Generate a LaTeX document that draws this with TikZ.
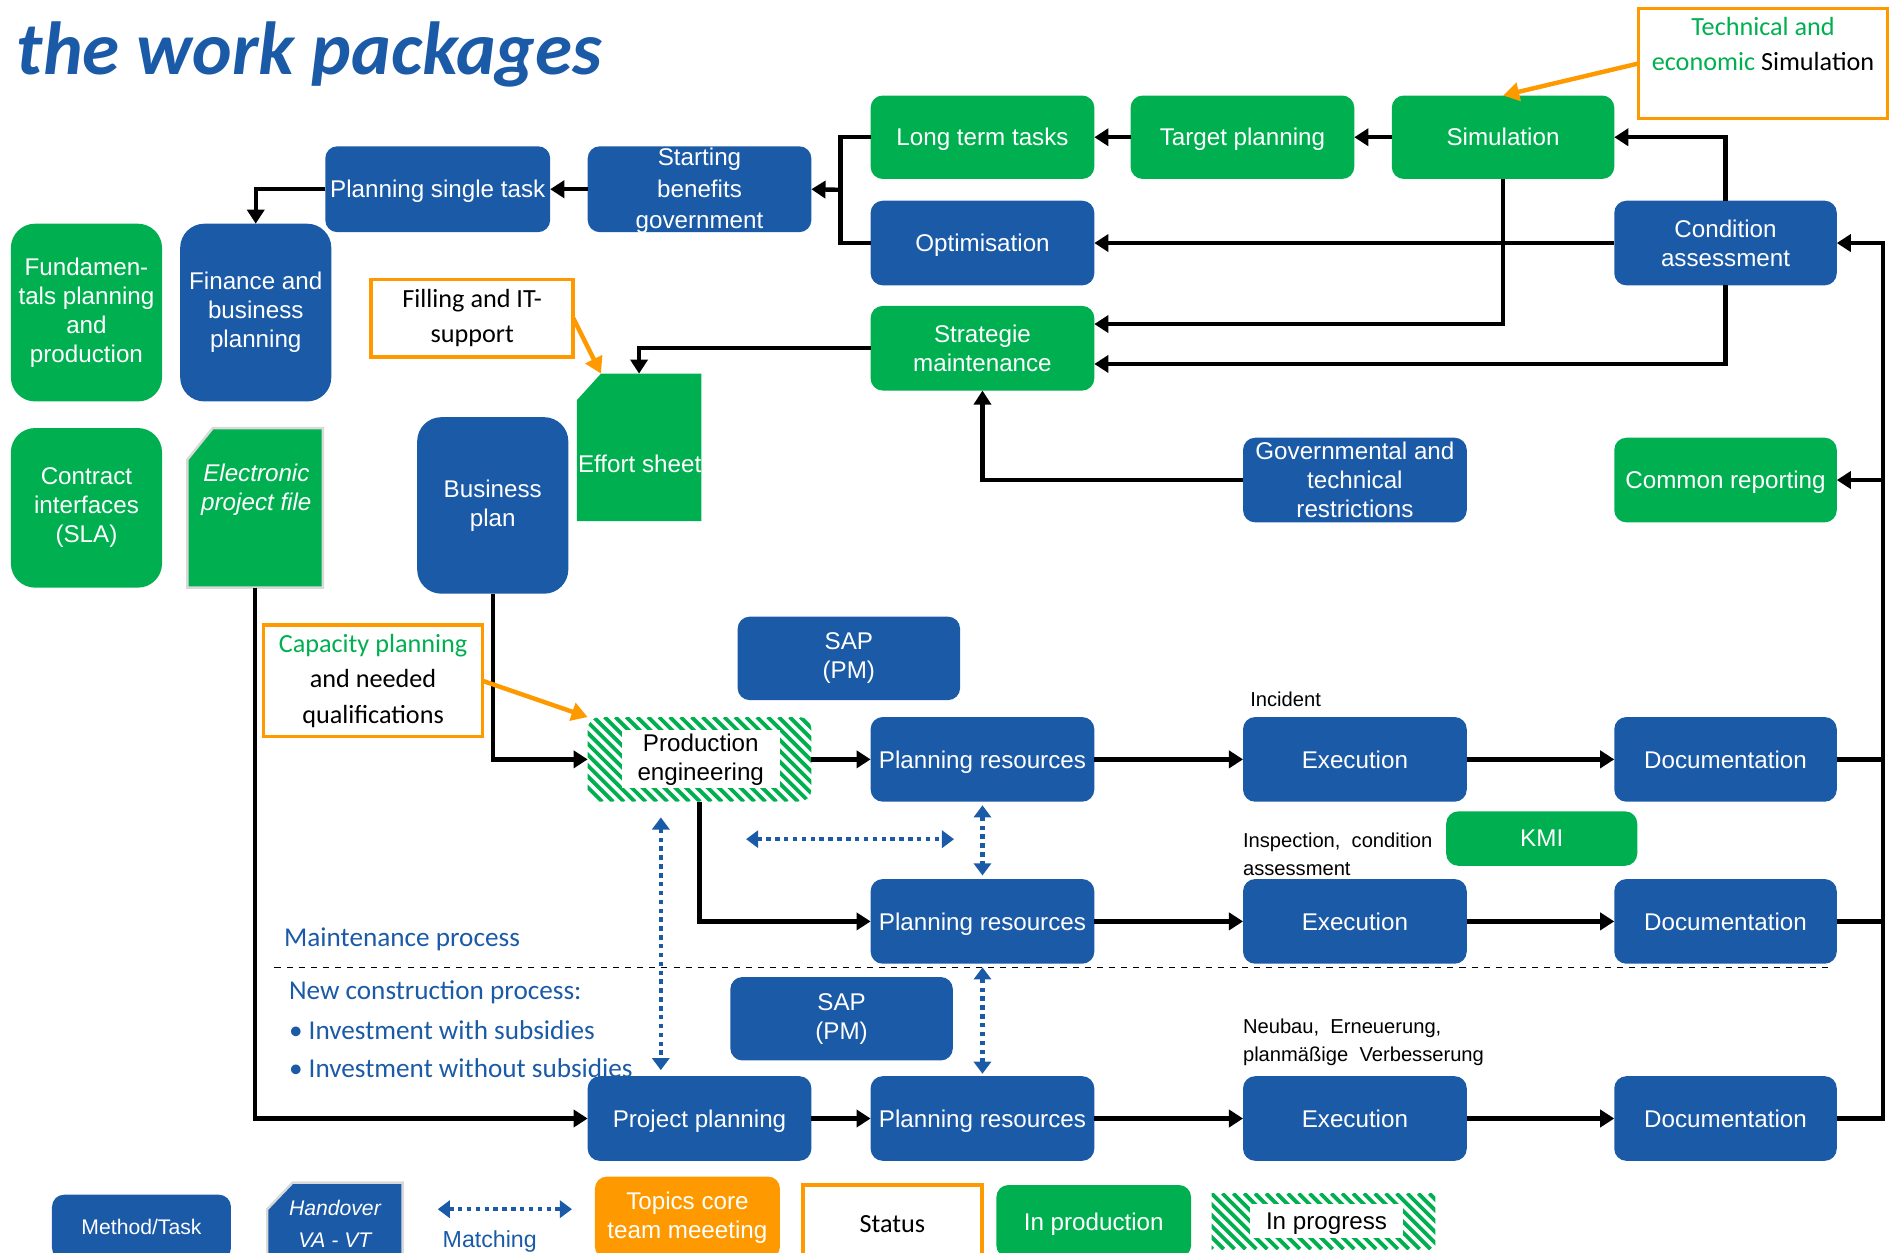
\documentclass[tikz,border=0pt]{standalone}
\usepackage{fontspec}
\setmainfont{Liberation Sans}
\newfontfamily\calibri{Carlito}
\usetikzlibrary{arrows.meta,calc}

\definecolor{cblue}{RGB}{27,90,167}
\definecolor{cgreen}{RGB}{0,176,80}
\definecolor{corange}{RGB}{255,153,0}

\tikzset{
  every node/.style={inner sep=0pt, outer sep=0pt},
  base/.style={text=white, align=center, font=\fontsize{12}{14.4}\selectfont, rounded corners=6pt},
  bluebox/.style={base, fill=cblue},
  greenbox/.style={base, fill=cgreen},
  one/.style={text depth=0pt},
  tallr/.style={rounded corners=12pt},
  callout/.style={draw=corange, line width=1.8pt, fill=white, align=center, font=\calibri\fontsize{13}{17.6}\selectfont, text=black},
  arr/.style={line width=2.2pt, -{Triangle[length=7pt,width=8.5pt]}},
  ln/.style={line width=2.2pt},
  oarr/.style={corange, line width=2.2pt, -{Triangle[length=8pt,width=9pt]}},
  match/.style={cblue, line width=2.2pt, dash pattern=on 2.2pt off 2.2pt, {Triangle[length=6pt,width=8.5pt]}-{Triangle[length=6pt,width=8.5pt]}},
  stripe/.style={cgreen, line width=1.9pt},
  small/.style={font=\fontsize{10}{14}\selectfont, align=left, text=black},
  procfont/.style={font=\calibri\fontsize{13.5}{16}\selectfont, text=cblue},
}

\newcommand\bx[7]{%
  \pgfmathsetmacro\bxw{(#4-#2)*0.6}%
  \pgfmathsetmacro\bxh{(#5-#3)*0.6}%
  \node[#6, minimum width=\bxw pt, minimum height=\bxh pt] (#1) at ({(#2+#4)/2},{(#3+#5)/2}) {#7};}

\begin{document}
\begin{tikzpicture}[x=0.6pt,y=-0.6pt]
\useasboundingbox (0,0) rectangle (1568,1036);
\clip (0,0) rectangle (1568,1036);

% title
\node[anchor=base west, font=\calibri\bfseries\itshape\fontsize{37.3}{40}\selectfont, text=cblue] (title) at (14,62) {the work packages};

% top area
\bx{lt}{720}{79}{905}{148}{greenbox,one}{Long term tasks}
\bx{tgt}{935}{79}{1120}{148}{greenbox,one}{Target planning}
\bx{sim}{1151}{79}{1335}{148}{greenbox,one}{Simulation}
\bx{c1}{1355}{7}{1561}{98}{callout}{}
\node[font=\calibri\fontsize{13}{17.4}\selectfont, align=center] (c1t) at (1458,36.5) {\textcolor{cgreen}{Technical and}\\\textcolor{cgreen}{economic} Simulation};
\bx{cond}{1335}{166}{1519}{236}{bluebox}{Condition\\assessment}
\bx{opt}{720}{166}{905}{236}{bluebox,one}{Optimisation}
\bx{strat}{720}{253}{905}{323}{greenbox}{Strategie\\maintenance}
\bx{start}{486}{121}{671}{192}{bluebox}{}
\node[text=white, align=center, font=\fontsize{12}{15.6}\selectfont] (startt) at (578.5,158) {Starting\\benefits\\government};
\bx{pst}{269}{121}{455}{192}{bluebox,one}{Planning single task}

% left column
\bx{fund}{9}{185}{134}{332}{greenbox,tallr}{Fundamen-\\tals planning\\and\\production}
\bx{fin}{149}{185}{274}{332}{bluebox,tallr}{Finance and\\business\\planning}
\bx{sla}{9}{354}{134}{486}{greenbox,tallr}{Contract\\interfaces\\(SLA)}
\bx{epf}{155}{354}{267}{486}{}{}
\path[fill=cgreen, draw=black!15, line width=1.2pt] ($(epf.north west)+(0,26)$) -- ($(epf.north west)+(21,0)$) -- (epf.north east) -- (epf.south east) -- (epf.south west) -- cycle;
\node[text=white, align=center, font=\itshape\fontsize{12}{14.4}\selectfont] (epft) at (212,405) {Electronic\\project file};

\bx{c2}{307}{231}{474}{295}{callout}{Filling and IT-\\support}
\bx{eff}{477}{309}{580}{431}{}{}
\path[fill=cgreen] ($(eff.north west)+(0,22)$) -- ($(eff.north west)+(20,0)$) -- (eff.north east) -- (eff.south east) -- (eff.south west) -- cycle;
\node[text=white, font=\fontsize{12}{14.4}\selectfont] (efft) at (529,384) {Effort sheet};
\bx{bp}{345}{345}{470}{491}{bluebox,tallr}{Business\\plan}
\bx{gov}{1028}{362}{1213}{432}{bluebox}{Governmental and\\technical\\restrictions}
\bx{rep}{1335}{362}{1519}{432}{greenbox,one}{Common reporting}

% process area
\bx{c3}{218}{517}{399}{609}{callout}{\textcolor{cgreen}{Capacity planning}\\and needed\\qualifications}
\bx{sap1}{610}{510}{794}{579}{bluebox}{SAP\\(PM)}

\begin{scope}
  \clip[rounded corners=6pt] (486,593) rectangle (671,663);
  \foreach \k in {410,419,...,680} \draw[stripe] (\k,593) -- +(70,70);
\end{scope}
\bx{pe}{486}{593}{671}{663}{}{}
\bx{pet}{514}{604}{645}{652}{fill=white, align=center, text=black, font=\fontsize{12}{14.4}\selectfont}{Production\\engineering}

\bx{pr1}{720}{593}{905}{663}{bluebox,one}{Planning resources}
\bx{ex1}{1028}{593}{1213}{663}{bluebox,one}{Execution}
\bx{doc1}{1335}{593}{1519}{663}{bluebox,one}{Documentation}
\node[small, anchor=west] (inc) at (1034,578) {Incident};
\node[small, anchor=west] (insp) at (1028,706.5) {Inspection,\ \ condition\\assessment};
\bx{kmi}{1196}{671}{1354}{716}{greenbox,one}{KMI}

\bx{pr2}{720}{727}{905}{797}{bluebox,one}{Planning resources}
\bx{ex2}{1028}{727}{1213}{797}{bluebox,one}{Execution}
\bx{doc2}{1335}{727}{1519}{797}{bluebox,one}{Documentation}

\node[procfont, anchor=west] (mp) at (235,777) {Maintenance process};
\draw[dashed, line width=0.8pt] (227,800) -- (1512,800);
\node[procfont, anchor=west] (nc1) at (239,821) {New construction process:};
\node[procfont, anchor=west] (nc2) at (239,852) {\textbullet\ Investment with subsidies};
\node[procfont, anchor=west] (nc3) at (239,883) {\textbullet\ Investment without subsidies};

\bx{sap2}{604}{808}{788}{877}{bluebox}{SAP\\(PM)}
\node[small, anchor=west] (neu) at (1028,862) {Neubau,\ \ Erneuerung,\\planmäßige\ \ Verbesserung};

\bx{pp}{486}{890}{671}{960}{bluebox,one}{Project planning}
\bx{pr3}{720}{890}{905}{960}{bluebox,one}{Planning resources}
\bx{ex3}{1028}{890}{1213}{960}{bluebox,one}{Execution}
\bx{doc3}{1335}{890}{1519}{960}{bluebox,one}{Documentation}

% connectors top
\draw[arr] (sim.west) -- (tgt.east);
\draw[arr] (tgt.west) -- (lt.east);
\draw[arr] (cond.north) |- (sim.east);
\draw[arr] (cond.west) -- (opt.east);
\draw[arr] (sim.south) |- ($(strat.east)+(0,-20)$);
\draw[arr] (cond.south) |- ($(strat.east)+(0,13)$);
\coordinate (j1) at (695,157);
\draw[ln] (lt.west) -| (j1) |- (opt.west);
\draw[arr] (j1) -- (start.east);
\draw[arr] (start.west) -- (pst.east);
\draw[arr] (pst.west) -| (fin.north);
\draw[arr] (strat.west) -| (eff.north);
\draw[arr] (gov.west) -| (strat.south);

% connectors process
\draw[arr] (bp.south) |- (pe.west);
\draw[arr] (epf.south) |- (pp.west);
\draw[arr] (pe.east) -- (pr1.west);
\draw[arr] (pr1.east) -- (ex1.west);
\draw[arr] (ex1.east) -- (doc1.west);
\draw[arr] (pe.south) |- (pr2.west);
\draw[arr] (pr2.east) -- (ex2.west);
\draw[arr] (ex2.east) -- (doc2.west);
\draw[arr] (pp.east) -- (pr3.west);
\draw[arr] (pr3.east) -- (ex3.west);
\draw[arr] (ex3.east) -- (doc3.west);

% right bus
\coordinate (bt) at (1557,201);
\draw[arr] (doc3.east) -| (bt) -- (cond.east);
\draw[ln] (doc1.east) -- (doc1.east -| bt);
\draw[ln] (doc2.east) -- (doc2.east -| bt);
\draw[arr] (rep.east -| bt) -- (rep.east);

% orange callout arrows
\draw[oarr] (c1.west) -- (sim.north);
\draw[oarr] (c2.east) -- ($(eff.north west)+(20,0)$);
\draw[oarr] (c3.east) -- (pe.north west);

% matching arrows
\coordinate (mh1) at (617,694);
\coordinate (mh2) at (789,694);
\draw[match] (mh1) -- (mh2);
\draw[match] ($(pr1.south)+(0,3)$) -- ($(pr2.north)+(0,-3)$);
\draw[match] ($(pr2.south)+(0,3)$) -- ($(pr3.north)+(0,-2)$);
\draw[match] ($(pe.south)+(-32,13)$) -- ($(pp.north)+(-32,-5)$);

% legend
\bx{lmt}{43}{988}{191}{1042}{bluebox, font=\fontsize{10.5}{12}\selectfont}{Method/Task}
\bx{lho}{221}{978}{333}{1045}{}{}
\path[fill=cblue, draw=black!15, line width=1.2pt] ($(lho.north west)+(0,22)$) -- ($(lho.north west)+(21,0)$) -- (lho.north east) -- (lho.south east) -- (lho.south west) -- cycle;
\node[text=white, align=center, font=\itshape\fontsize{10.5}{15.6}\selectfont] (lhot) at (277,1012) {Handover\\VA - VT};
\coordinate (lm1) at (362,1000);
\coordinate (lm2) at (473,1000);
\draw[match] (lm1) -- (lm2);
\node[text=cblue, font=\fontsize{11.5}{14}\selectfont] (lmt2) at (405,1027) {Matching};
\bx{ltop}{492}{973}{645}{1041}{base, fill=corange}{Topics core\\team meeeting}
\bx{lst}{664}{980}{812}{1045}{callout}{Status}
\bx{lprod}{824}{980}{985}{1040}{greenbox,one}{In production}
\begin{scope}
  \clip (1002,987) rectangle (1187,1033);
  \foreach \k in {930,939,...,1190} \draw[stripe] (\k,987) -- +(46,46);
\end{scope}
\bx{lprog}{1034}{996}{1160}{1024}{fill=white, text=black, one, font=\fontsize{12}{14.4}\selectfont}{In progress}
\end{tikzpicture}
\end{document}
